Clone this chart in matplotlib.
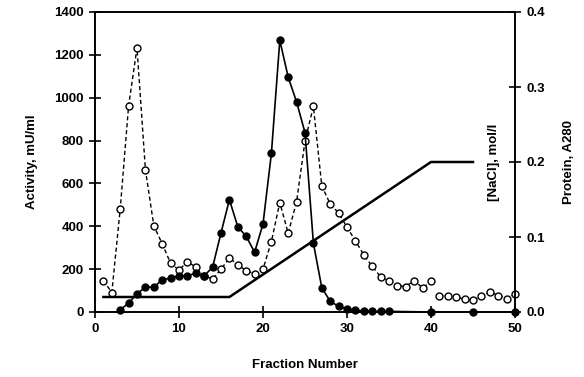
import matplotlib
matplotlib.use("Agg")
import matplotlib.pyplot as plt

plt.rcParams['font.family'] = ['Liberation Sans', 'DejaVu Sans']
plt.rcParams['font.weight'] = 'bold'

# activity (filled circles), mU/ml
act_frac = list(range(3, 36)) + [40, 45, 50]
act_val = [10, 42, 85, 116, 116, 150, 158, 169, 169, 181, 169, 209, 369, 524, 398,
           353, 279, 411, 740, 1268, 1096, 980, 837, 321, 113, 50, 26, 15, 8, 5,
           3, 3, 3, 0, 0, 0]

# protein A280 (open circles)
prot_frac = list(range(1, 51))
prot_val = [0.042, 0.026, 0.137, 0.275, 0.352, 0.190, 0.115, 0.091, 0.065, 0.056,
            0.067, 0.060, 0.048, 0.044, 0.057, 0.072, 0.063, 0.055, 0.051, 0.057,
            0.094, 0.146, 0.105, 0.147, 0.228, 0.274, 0.168, 0.144, 0.132, 0.113,
            0.095, 0.076, 0.061, 0.047, 0.041, 0.035, 0.034, 0.042, 0.032, 0.041,
            0.022, 0.021, 0.020, 0.017, 0.016, 0.021, 0.027, 0.022, 0.018, 0.024]

# NaCl gradient, mol/l
nacl_frac = [1, 16, 40, 45]
nacl_val = [0.02, 0.02, 0.2, 0.2]

fig = plt.figure(figsize=(5.84, 3.77), dpi=100)
ax = fig.add_axes([95/584, 65/377, 420/584, 300/377])
ax2 = ax.twinx()
# draw activity above the twin axes so baseline markers are not hidden
ax.set_zorder(ax2.get_zorder() + 1)
ax.patch.set_visible(False)

ax.plot(act_frac, act_val, '-', color='black', lw=1.2, marker='o', ms=5,
        mfc='black', mec='black', zorder=3, clip_on=False)

# protein line breaks after fraction 40
ax2.plot(prot_frac[:40], prot_val[:40], color='black', lw=1.0, dashes=(3, 2),
         marker='o', ms=5, mfc='white', mec='black', mew=1.0, clip_on=False)
ax2.plot(prot_frac[40:], prot_val[40:], color='black', lw=1.0, dashes=(3, 2),
         marker='o', ms=5, mfc='white', mec='black', mew=1.0, clip_on=False)
ax2.plot(nacl_frac, nacl_val, '-', color='black', lw=1.8)

ax.set_xlim(0, 50)
ax.set_ylim(0, 1400)
ax2.set_ylim(0, 0.4)
ax.set_xticks([0, 10, 20, 30, 40, 50])
ax.set_yticks(range(0, 1401, 200))
ax2.set_yticks([0.0, 0.1, 0.2, 0.3, 0.4])
ax2.set_yticklabels(['0.0', '0.1', '0.2', '0.3', '0.4'])

for a in (ax, ax2):
    for s in a.spines.values():
        s.set_linewidth(1.2)
ax.tick_params(axis='both', direction='inout', length=8, width=1.2,
               labelsize=9.5, pad=4)
ax2.tick_params(axis='y', direction='inout', length=8, width=1.2,
                labelsize=9.5, pad=4)

ax.set_xlabel('Fraction Number', fontsize=9.5, fontweight='bold', labelpad=17)
ax.set_ylabel('Activity, mU/ml', fontsize=9.5, fontweight='bold', labelpad=12)
ax2.set_ylabel('Protein, A280', fontsize=9.5, fontweight='bold', labelpad=13)
ax2.text(0.95, 0.5, '[NaCl], mol/l', transform=ax2.transAxes, rotation=90,
         ha='center', va='center', fontsize=9.5, fontweight='bold')

fig.savefig('out.png', dpi=100)
